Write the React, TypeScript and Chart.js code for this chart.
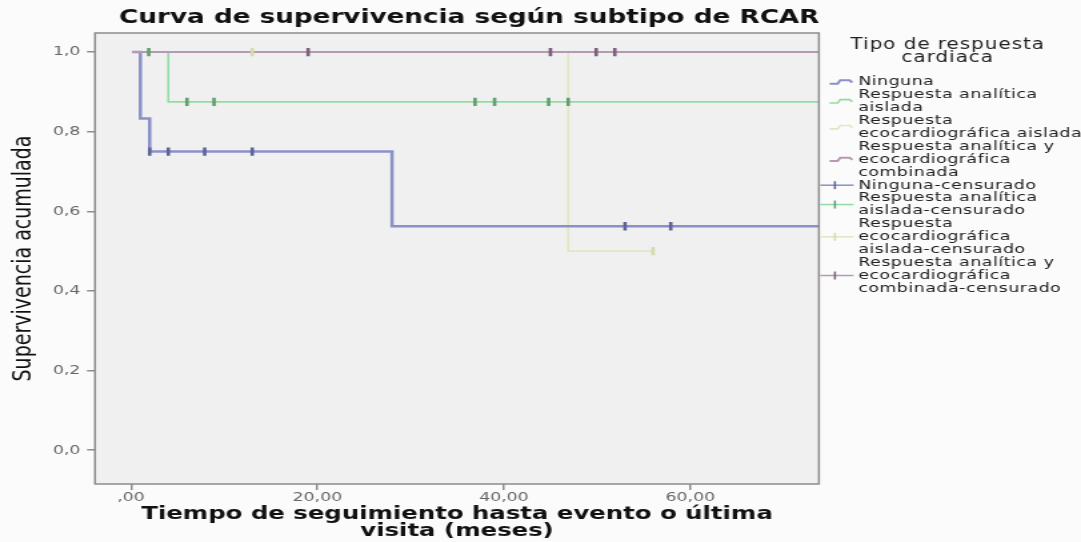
import React, { useEffect, useRef } from 'react';
import { Chart, registerables } from 'chart.js';

Chart.register(...registerables);

const FONT = '"DejaVu Sans", sans-serif';

// ---- texts ----
const chartTitle = 'Curva de supervivencia según subtipo de RCAR';
const xAxisTitle = ['Tiempo de seguimiento hasta evento o última', 'visita (meses)'];
const yAxisTitle = 'Supervivencia acumulada';
const legendTitle = ['Tipo de respuesta', 'cardiaca'];

// ---- ticks ----
const xTicks = [0, 20, 40, 60];
const xTickLabels = [',00', '20,00', '40,00', '60,00'];
const yTicks = [0, 0.2, 0.4, 0.6, 0.8, 1.0];
const yTickLabels = ['0,0', '0,2', '0,4', '0,6', '0,8', '1,0'];

// ---- series (time in months, cumulative survival) ----
const ningunaTimes = [0.1, 1.0, 2.0, 28.0, 75];
const ningunaSurv = [1, 0.8333, 0.75, 0.5625, 0.5625];
const ningunaCensTimes = [2.0, 4.0, 7.9, 13.0, 53.0, 57.9];
const ningunaCensSurv = [0.75, 0.75, 0.75, 0.75, 0.5625, 0.5625];

const analiticaTimes = [0.1, 4.0, 75];
const analiticaSurv = [1, 0.875, 0.875];
const analiticaCensTimes = [1.9, 6.0, 8.9, 36.9, 39.0, 44.8, 46.9];
const analiticaCensSurv = [1, 0.875, 0.875, 0.875, 0.875, 0.875, 0.875];

const ecoTimes = [0.1, 46.9, 56.0];
const ecoSurv = [1, 0.5, 0.5];
const ecoCensTimes = [13.0, 56.0];
const ecoCensSurv = [1, 0.5];

const combTimes = [0.1, 75];
const combSurv = [1, 1];
const combCensTimes = [19.0, 45.0, 49.9, 51.9];
const combCensSurv = [1, 1, 1, 1];

// ---- legend ----
const legendLabels = [
  ['Ninguna'],
  ['Respuesta analítica', 'aislada'],
  ['Respuesta', 'ecocardiográfica aislada'],
  ['Respuesta analítica y', 'ecocardiográfica', 'combinada'],
  ['Ninguna-censurado'],
  ['Respuesta analítica', 'aislada-censurado'],
  ['Respuesta', 'ecocardiográfica', 'aislada-censurado'],
  ['Respuesta analítica y', 'ecocardiográfica', 'combinada-censurado'],
];
const legendKinds = ['line', 'line', 'line', 'line', 'cens', 'cens', 'cens', 'cens'];
const legendSeries = [0, 1, 2, 3, 0, 1, 2, 3];

const lineColors = ['#8a90c8', '#92dba2', '#e2e6c2', '#b49ab2'];
const censColors = ['#5d6399', '#5f9f6e', '#d6dab0', '#7c5f7b'];
const lineWidths = [2.5, 1.6, 1.6, 2];

const toPts = (xs: number[], ys: number[]) => xs.map((x, i) => ({ x, y: ys[i] }));

const BUF_W = 811;
const H = 542;

const bgPlugin = {
  id: 'bgFrame',
  beforeDraw(chart: any) {
    const { ctx, chartArea: a } = chart;
    ctx.save();
    ctx.fillStyle = '#fbfbfb';
    ctx.fillRect(0, 0, chart.width, chart.height);
    ctx.fillStyle = '#f0f0f0';
    ctx.fillRect(a.left, a.top, a.right - a.left, a.bottom - a.top);
    ctx.restore();
  },
  afterDraw(chart: any) {
    const { ctx, chartArea: a } = chart;
    ctx.save();
    ctx.strokeStyle = '#8c8c8c';
    ctx.lineWidth = 1.5;
    ctx.strokeRect(a.left, a.top, a.right - a.left, a.bottom - a.top);

    // title
    ctx.fillStyle = '#111';
    ctx.font = `bold 19.7px ${FONT}`;
    ctx.textAlign = 'center';
    ctx.textBaseline = 'middle';
    ctx.fillText(chartTitle, 352, 17.5);

    // legend
    const R = a.right;
    ctx.fillStyle = '#222';
    ctx.font = `15px ${FONT}`;
    (ctx as any).letterSpacing = '0.7px';
    ctx.fillText(legendTitle[0], 711, 45);
    ctx.fillText(legendTitle[1], 711, 58);
    ctx.font = `13px ${FONT}`;
    (ctx as any).letterSpacing = '0.4px';
    ctx.textAlign = 'left';
    let row = 0;
    const y0 = 82;
    const lh = 12.9;
    legendLabels.forEach((lines, i) => {
      const first = y0 + row * lh;
      lines.forEach((t, j) => {
        ctx.fillStyle = '#222';
        ctx.fillText(t, R + 29.5, first + j * lh);
      });
      const cy = first + ((lines.length - 1) * lh) / 2;
      const s = legendSeries[i];
      ctx.beginPath();
      if (legendKinds[i] === 'line') {
        ctx.strokeStyle = lineColors[s];
        ctx.lineWidth = Math.min(lineWidths[s], 2);
        ctx.moveTo(R + 8, cy + 1.7);
        ctx.lineTo(R + 14, cy + 1.7);
        ctx.lineTo(R + 16, cy - 1.7);
        ctx.lineTo(R + 23, cy - 1.7);
        ctx.lineTo(R + 25, cy + 0.5);
        ctx.stroke();
      } else {
        ctx.strokeStyle = lineColors[s];
        ctx.lineWidth = 1.5;
        ctx.moveTo(R + 1, cy);
        ctx.lineTo(R + 26, cy);
        ctx.stroke();
        ctx.beginPath();
        ctx.strokeStyle = censColors[s];
        ctx.lineWidth = 1.5;
        ctx.moveTo(R + 12, cy - 4);
        ctx.lineTo(R + 12, cy + 4);
        ctx.stroke();
      }
      row += lines.length;
    });
    ctx.restore();
  },
};

export default function App() {
  const ref = useRef<HTMLCanvasElement | null>(null);

  useEffect(() => {
    document.body.style.margin = '0';
    const canvas = ref.current!;
    const curve = (label: string, pts: any[], k: number, order: number) => ({
      label,
      data: pts,
      borderColor: lineColors[k],
      backgroundColor: lineColors[k],
      borderWidth: lineWidths[k],
      stepped: 'before' as const,
      pointRadius: 0,
      fill: false,
      order,
    });
    const cens = (label: string, pts: any[], k: number) => ({
      label,
      data: pts,
      showLine: false,
      pointStyle: 'line' as const,
      rotation: 90,
      pointRadius: 4.2,
      borderWidth: 2.6,
      borderColor: censColors[k],
      backgroundColor: censColors[k],
      order: 0,
    });

    const chart = new Chart(canvas, {
      type: 'line',
      data: {
        datasets: [
          curve('Ninguna', toPts(ningunaTimes, ningunaSurv), 0, 2),
          curve('Respuesta analítica aislada', toPts(analiticaTimes, analiticaSurv), 1, 3),
          curve('Respuesta ecocardiográfica aislada', toPts(ecoTimes, ecoSurv), 2, 4),
          curve('Respuesta analítica y ecocardiográfica combinada', toPts(combTimes, combSurv), 3, 1),
          cens('Ninguna-censurado', toPts(ningunaCensTimes, ningunaCensSurv), 0),
          cens('Respuesta analítica aislada-censurado', toPts(analiticaCensTimes, analiticaCensSurv), 1),
          cens('Respuesta ecocardiográfica aislada-censurado', toPts(ecoCensTimes, ecoCensSurv), 2),
          cens('Respuesta analítica y ecocardiográfica combinada-censurado', toPts(combCensTimes, combCensSurv), 3),
        ],
      },
      options: {
        animation: false,
        responsive: false,
        devicePixelRatio: 1,
        events: [],
        layout: { padding: { top: 33, right: BUF_W - 614.4, left: 0, bottom: 0 } },
        plugins: {
          legend: { display: false },
          title: { display: false },
          tooltip: { enabled: false },
        },
        scales: {
          x: {
            type: 'linear',
            min: -3.86,
            max: 73.8,
            afterBuildTicks: (s: any) => {
              s.ticks = xTicks.map((value) => ({ value }));
            },
            afterFit: (s: any) => {
              s.height = H - 484;
            },
            grid: {
              drawOnChartArea: false,
              drawTicks: true,
              tickLength: 6,
              color: '#8c8c8c',
              lineWidth: 1.5,
            },
            border: { display: false },
            ticks: {
              autoSkip: false,
              maxRotation: 0,
              padding: 0,
              color: '#666',
              font: { family: FONT, size: 13 },
              callback: (_v: any, i: number) => xTickLabels[i] ?? '',
            },
            title: {
              display: true,
              text: xAxisTitle,
              color: '#111',
              font: { family: FONT, size: 18.3, weight: 'bold', lineHeight: 0.92 },
              padding: { top: 0, bottom: 2.5 },
            },
          },
          y: {
            type: 'linear',
            min: -0.085,
            max: 1.048,
            afterBuildTicks: (s: any) => {
              s.ticks = yTicks.map((value) => ({ value }));
            },
            afterFit: (s: any) => {
              s.width = 71.3;
            },
            grid: {
              drawOnChartArea: false,
              drawTicks: true,
              tickLength: 6,
              color: '#8c8c8c',
              lineWidth: 1.5,
            },
            border: { display: false },
            ticks: {
              autoSkip: false,
              padding: 5,
              color: '#666',
              font: { family: FONT, size: 13 },
              callback: (_v: any, i: number) => yTickLabels[i] ?? '',
            },
            title: {
              display: true,
              text: yAxisTitle,
              color: '#111',
              font: { family: FONT, size: 19, weight: 'normal' },
              padding: { top: 6.5, bottom: 0 },
            },
          },
        },
      },
      plugins: [bgPlugin],
    } as any);

    return () => chart.destroy();
  }, []);

  return (
    <div style={{ width: 1081, height: H, overflow: 'hidden' }}>
      <canvas
        ref={ref}
        width={BUF_W}
        height={H}
        style={{ width: '1081px', height: `${H}px`, display: 'block' }}
      />
    </div>
  );
}
